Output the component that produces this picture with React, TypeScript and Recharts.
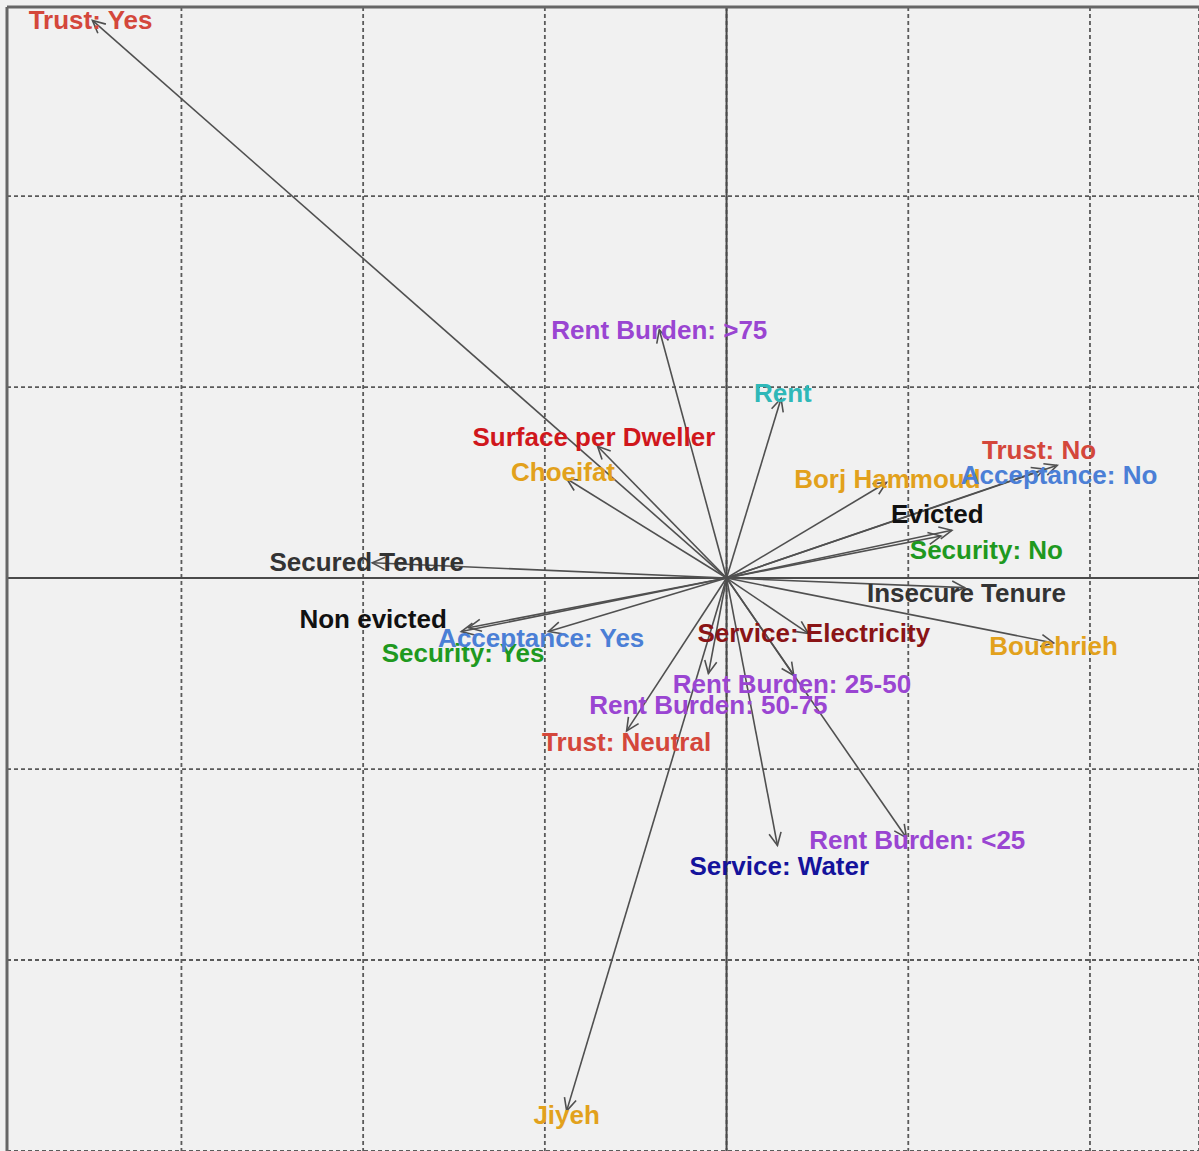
import { CartesianGrid, ReferenceLine, Scatter, ScatterChart, XAxis, YAxis } from "recharts";

// variable / category names, in drawing order
const names = [
  "Trust: Yes",
  "Rent Burden: >75",
  "Rent",
  "Surface per Dweller",
  "Choeifat",
  "Borj Hammoud",
  "Trust: No",
  "Acceptance: No",
  "Evicted",
  "Security: No",
  "Insecure Tenure",
  "Bouehrieh",
  "Service: Electricity",
  "Rent Burden: 25-50",
  "Rent Burden: 50-75",
  "Trust: Neutral",
  "Service: Water",
  "Rent Burden: <25",
  "Jiyeh",
  "Secured Tenure",
  "Non evicted",
  "Security: Yes",
  "Acceptance: Yes",
];

// arrow tips (dim 1, dim 2)
const tipX = [-3.49, -0.37, 0.3, -0.71, -0.88, 0.88, 1.82, 1.75, 1.24, 1.18, 1.31, 1.8, 0.45, 0.37, -0.1, -0.55, 0.28, 0.99, -0.88, -1.95, -1.46, -1.42, -0.98];
const tipY = [2.92, 1.3, 0.94, 0.69, 0.52, 0.5, 0.59, 0.57, 0.25, 0.22, -0.05, -0.34, -0.29, -0.51, -0.5, -0.8, -1.4, -1.36, -2.79, 0.08, -0.28, -0.26, -0.28];

// where the text of each label sits
const textX = [-3.5, -0.37, 0.31, -0.73, -0.9, 0.885, 1.72, 1.83, 1.16, 1.43, 1.32, 1.8, 0.48, 0.36, -0.1, -0.55, 0.29, 1.05, -0.88, -1.98, -1.945, -1.45, -1.02];
const textY = [2.92, 1.3, 0.97, 0.74, 0.555, 0.52, 0.67, 0.54, 0.335, 0.147, -0.08, -0.355, -0.29, -0.555, -0.665, -0.86, -1.51, -1.37, -2.81, 0.084, -0.215, -0.39, -0.315];

const xTicks = [-3, -2, -1, 0, 1, 2];
const yTicks = [-2, -1, 0, 1, 2];

const colour: Record<string, string> = {
  "Trust: Yes": "#d4473b",
  "Trust: No": "#d4473b",
  "Trust: Neutral": "#d4473b",
  "Rent Burden: >75": "#9a45d2",
  "Rent Burden: 25-50": "#9a45d2",
  "Rent Burden: 50-75": "#9a45d2",
  "Rent Burden: <25": "#9a45d2",
  Rent: "#2fb8b8",
  "Surface per Dweller": "#d0171c",
  Choeifat: "#e2a11c",
  "Borj Hammoud": "#e2a11c",
  Bouehrieh: "#e2a11c",
  Jiyeh: "#e2a11c",
  "Acceptance: No": "#4b7fd6",
  "Acceptance: Yes": "#4b7fd6",
  "Security: No": "#1f991f",
  "Security: Yes": "#1f991f",
  Evicted: "#111111",
  "Non evicted": "#111111",
  "Insecure Tenure": "#333333",
  "Secured Tenure": "#333333",
  "Service: Electricity": "#8a1416",
  "Service: Water": "#14139c",
};

const arrows = names.map((n, i) => ({ name: n, x: tipX[i], y: tipY[i] }));
const labelData = names.map((n, i) => ({ name: n, x: textX[i], y: textY[i] }));

const X_MIN = -3.96;
const X_MAX = 2.6;
const Y_MIN = -3.0;
const Y_MAX = 2.99;

function ArrowShape(props: any) {
  const { x1, y1, x2, y2 } = props;
  const ang = Math.atan2(y2 - y1, x2 - x1);
  const len = 14;
  const spread = Math.PI / 7;
  const ax = x2 + len * Math.cos(ang + Math.PI - spread);
  const ay = y2 + len * Math.sin(ang + Math.PI - spread);
  const bx = x2 + len * Math.cos(ang + Math.PI + spread);
  const by = y2 + len * Math.sin(ang + Math.PI + spread);
  return (
    <g>
      <line x1={x1} y1={y1} x2={x2} y2={y2} stroke="#505050" strokeWidth={1.6} />
      <polyline points={`${ax},${ay} ${x2},${y2} ${bx},${by}`} fill="none" stroke="#505050" strokeWidth={1.6} />
    </g>
  );
}

function LabelShape(props: any) {
  const { cx, cy, payload } = props;
  return (
    <text
      x={cx}
      y={cy}
      textAnchor="middle"
      dominantBaseline="central"
      fontFamily="'Liberation Sans', Arial, sans-serif"
      fontWeight="bold"
      fontSize={26}
      fill={colour[payload.name]}
    >
      {payload.name}
    </text>
  );
}

export default function App() {
  return (
    <div style={{ position: "absolute", left: 0, top: 0, width: 1199, height: 1151, overflow: "hidden", background: "#f1f1f1" }}>
      <ScatterChart width={1199} height={1151} margin={{ top: 7, left: 7, right: 0, bottom: 0 }}>
        <CartesianGrid stroke="#5a5a5a" strokeWidth={1.8} strokeDasharray="4 3" />
        <XAxis type="number" dataKey="x" domain={[X_MIN, X_MAX]} ticks={xTicks} allowDataOverflow hide />
        <YAxis type="number" dataKey="y" domain={[Y_MIN, Y_MAX]} ticks={yTicks} allowDataOverflow hide />
        <ReferenceLine x={0} stroke="#4a4a4a" strokeWidth={2} />
        <ReferenceLine y={0} stroke="#4a4a4a" strokeWidth={2} />
        <ReferenceLine x={X_MIN} stroke="#666" strokeWidth={3} />
        <ReferenceLine y={Y_MAX} stroke="#666" strokeWidth={3} />
        <Scatter data={labelData} shape={LabelShape} isAnimationActive={false} />
        {arrows.map((a) => (
          <ReferenceLine
            key={a.name}
            segment={[
              { x: 0, y: 0 },
              { x: a.x, y: a.y },
            ]}
            shape={ArrowShape}
          />
        ))}
      </ScatterChart>
    </div>
  );
}
